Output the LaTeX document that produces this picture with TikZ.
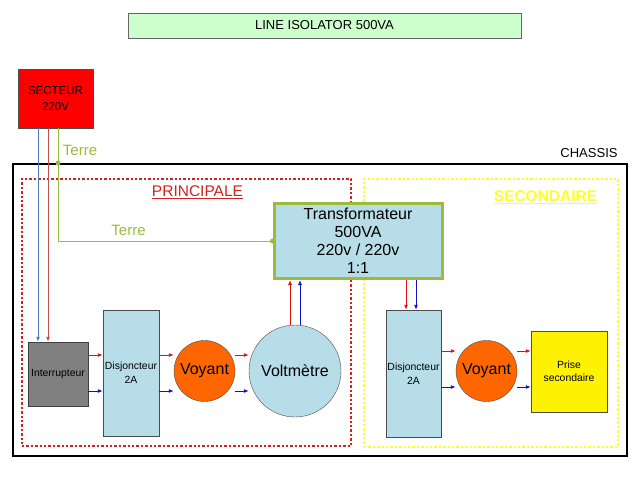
\documentclass[tikz,border=0pt]{standalone}
\usepackage{fontspec}
\setmainfont{Liberation Sans}
\usetikzlibrary{arrows.meta}
\definecolor{titlegreen}{HTML}{CCFFCC}
\definecolor{boxblue}{HTML}{B7DDE8}
\definecolor{lamporange}{HTML}{FF6600}
\definecolor{earthgreen}{HTML}{9BBB3B}
\definecolor{wirered}{HTML}{E01010}
\definecolor{wireblue}{HTML}{1010C8}
\definecolor{mainsred}{HTML}{C0504D}
\definecolor{mainsblue}{HTML}{4A7EBB}
\definecolor{dotred}{HTML}{D42020}
\definecolor{dotyellow}{HTML}{FFFF22}
\def\fsz#1#2{\fontsize{#1}{#2}\selectfont}
\def\rarr{\draw[redarr]}
\def\barr{\draw[bluearr]}

\begin{document}
\begin{tikzpicture}[x=1pt,y=-1pt,
    box/.style={draw=black!70,inner sep=0pt,align=center},
    zone/.style={line width=2.8pt,dash pattern=on 2.4pt off 2pt,inner sep=0pt},
    redarr/.style={draw=wirered,line width=0.9pt,-{Latex[length=5pt,width=4pt]}},
    bluearr/.style={draw=wireblue,line width=0.9pt,-{Latex[length=5pt,width=4pt]}},
    earth/.style={draw=earthgreen,line width=1pt},
    earthtxt/.style={text=earthgreen,font=\fsz{15}{17}}]
\useasboundingbox (0,0) rectangle (640,480);

% titre et alimentation
\node[box,draw=black!60,fill=titlegreen,minimum width=393pt,minimum height=25pt,font=\fsz{13}{15}] (title) at (324.5,25.5) {LINE ISOLATOR 500VA};
\node[box,fill=red,minimum width=75pt,minimum height=59pt,font=\fsz{11.5}{16}] (secteur) at (55.5,98.5) {SECTEUR\\220V};

% chassis et zones
\node[draw,line width=2pt,minimum width=614.5pt,minimum height=292pt,inner sep=0pt] (chassis) at (319.75,310) {};
\node[font=\fsz{13}{15}] (chassislbl) at (589,153) {CHASSIS};
\node[zone,draw=dotred,minimum width=329pt,minimum height=267pt] (princ) at (186.5,312.5) {};
\node[zone,draw=dotyellow,minimum width=254pt,minimum height=268pt] (second) at (491,313) {};
\node[text=dotred,font=\fsz{15.5}{17}] (princlbl) at (197.5,192) {\underline{PRINCIPALE}};
\node[text=dotyellow,font=\fsz{15.5}{17}\bfseries] (secondlbl) at (545.5,197) {\underline{SECONDAIRE}};

% blocs
\node[box,draw=earthgreen,line width=3pt,fill=boxblue,minimum width=168pt,minimum height=75pt,font=\fsz{16}{18}] (transfo) at (358,241) {Transformateur\\500VA\\220v / 220v\\1:1};
\node[box,fill=black!50,draw=black!75,minimum width=60pt,minimum height=64pt,font=\fsz{10.4}{12}] (intr) at (58,374) {Interrupteur};
\node[box,fill=boxblue,minimum width=56pt,minimum height=126pt,font=\fsz{10.4}{14}] (disjA) at (131,373) {Disjoncteur\\2A};
\node[box,circle,fill=lamporange,minimum size=61pt,font=\fsz{16}{18}] (voyA) at (204.5,371) {Voyant};
\node[box,circle,fill=boxblue,minimum size=92pt,font=\fsz{16}{18}] (volt) at (295,371) {Voltmètre};
\node[box,fill=boxblue,minimum width=55pt,minimum height=127pt,font=\fsz{10.4}{14}] (disjB) at (413.5,373.5) {Disjoncteur\\2A};
\node[box,circle,fill=lamporange,minimum size=61pt,font=\fsz{16}{18}] (voyB) at (486.5,371) {Voyant};
\node[box,fill=yellow,minimum width=76pt,minimum height=81pt,font=\fsz{10.4}{13}] (prise) at (569,371.5) {Prise\\secondaire};

% niveaux des fils
\coordinate (colB) at (38,0);
\coordinate (colR) at (48,0);
\coordinate (colG) at (58,0);
\coordinate (rowRA) at (0,355);
\coordinate (rowBA) at (0,391);
\coordinate (rowRB) at (0,351);
\coordinate (rowBB) at (0,387);

% terre
\draw[earth] (secteur.south -| colG) -- (colG |- transfo.west) -- (transfo.west);
\fill[earthgreen] (colG |- chassis.north) circle (2.5);
\fill[earthgreen] (transfo.west) circle (2.5);
\node[earthtxt] (terre1) at (80,150) {Terre};
\node[earthtxt] (terre2) at (128.5,230) {Terre};

% secteur vers interrupteur
\draw[mainsblue,line width=0.9pt,-{Latex[length=5pt,width=4pt]}] (secteur.south -| colB) -- (intr.north -| colB);
\draw[mainsred,line width=0.9pt,-{Latex[length=5pt,width=4pt]}] (secteur.south -| colR) -- (intr.north -| colR);

% primaire
\rarr (intr.east |- rowRA) -- (disjA.west |- rowRA);
\barr (intr.east |- rowBA) -- (disjA.west |- rowBA);
\rarr (disjA.east |- rowRA) -- (voyA.west |- rowRA);
\barr (disjA.east |- rowBA) -- (voyA.west |- rowBA);
\rarr (voyA.east |- rowRA) -- (volt.west |- rowRA);
\barr (voyA.east |- rowBA) -- (volt.west |- rowBA);
\rarr ([xshift=-5pt]volt.north) -- ([xshift=-5pt]volt.north |- transfo.south);
\barr ([xshift=5pt]volt.north) -- ([xshift=5pt]volt.north |- transfo.south);

% secondaire
\rarr ([xshift=-7.5pt]disjB.north |- transfo.south) -- ([xshift=-7.5pt]disjB.north);
\barr ([xshift=2.5pt]disjB.north |- transfo.south) -- ([xshift=2.5pt]disjB.north);
\rarr (disjB.east |- rowRB) -- (voyB.west |- rowRB);
\barr (disjB.east |- rowBB) -- (voyB.west |- rowBB);
\rarr (voyB.east |- rowRB) -- (prise.west |- rowRB);
\barr (voyB.east |- rowBB) -- (prise.west |- rowBB);
\end{tikzpicture}
\end{document}
